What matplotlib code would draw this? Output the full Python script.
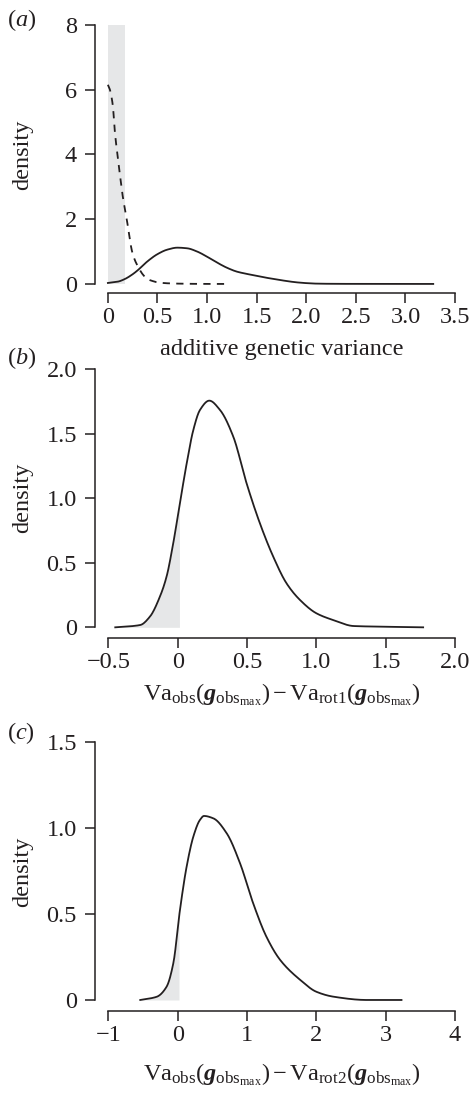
import numpy as np
import matplotlib
matplotlib.use("Agg")
import matplotlib.pyplot as plt

# ---- data ----
# panel (a): posterior densities of additive genetic variance
a_obs_x = [0, 0.1, 0.17, 0.25, 0.3, 0.4, 0.5, 0.6, 0.7, 0.8, 0.9, 1.0, 1.1, 1.2,
           1.3, 1.4, 1.5, 1.6, 1.7, 1.8, 1.9, 2.0, 2.1, 2.3, 2.6, 3.0, 3.28]
a_obs_y = [0.03, 0.07, 0.15, 0.3, 0.42, 0.7, 0.92, 1.06, 1.12, 1.1, 1.0, 0.84, 0.66, 0.5,
           0.38, 0.31, 0.25, 0.19, 0.14, 0.09, 0.05, 0.025, 0.01, 0.003, 0.001, 0, 0]
a_null_x = [0, 0.02, 0.05, 0.07, 0.1, 0.12, 0.15, 0.19, 0.22, 0.24, 0.27, 0.31,
            0.35, 0.4, 0.45, 0.5, 0.6, 0.8, 1.0, 1.18]
a_null_y = [6.15, 6.0, 5.5, 4.7, 3.9, 3.4, 2.7, 2.0, 1.4, 1.05, 0.75, 0.5,
            0.3, 0.15, 0.09, 0.05, 0.02, 0.005, 0, 0]
a_shade = (0, 0.17)

# panel (b)
b_x = [-0.45, -0.27, -0.2, -0.128, -0.08, -0.032, 0.016, 0.065, 0.113, 0.161, 0.228,
       0.305, 0.401, 0.497, 0.593, 0.689, 0.785, 0.882, 1.0, 1.12, 1.27, 1.48, 1.77]
b_y = [0, 0.018, 0.083, 0.238, 0.393, 0.651, 0.961, 1.27, 1.53, 1.685, 1.757,
       1.685, 1.478, 1.116, 0.806, 0.548, 0.341, 0.212, 0.109, 0.057, 0.01, 0.005, 0]

# panel (c)
c_x = [-0.54, -0.3, -0.16, -0.063, 0.033, 0.129, 0.226, 0.32, 0.38, 0.515, 0.708,
       0.9, 1.09, 1.28, 1.48, 1.77, 2.0, 2.25, 2.73, 3.23]
c_y = [0, 0.019, 0.077, 0.213, 0.523, 0.774, 0.949, 1.045, 1.069, 1.055, 0.968,
       0.794, 0.561, 0.368, 0.232, 0.116, 0.048, 0.019, 0, 0]

ink = "#231f20"
shade = "#e6e7e8"

plt.rcParams["font.family"] = ["Liberation Serif", "DejaVu Serif"]
plt.rcParams["mathtext.fontset"] = "custom"
plt.rcParams["mathtext.rm"] = "Liberation Serif"
plt.rcParams["mathtext.it"] = "Liberation Serif:italic"
plt.rcParams["mathtext.bf"] = "Liberation Serif:bold"
plt.rcParams["mathtext.bfit"] = "Liberation Serif:italic:bold"
plt.rcParams["text.color"] = ink

W, H = 472, 1093
fig = plt.figure(figsize=(W / 100, H / 100), dpi=100)


def px_axes(left, right, top, bottom):
    return fig.add_axes([left / W, 1 - bottom / H, (right - left) / W, (bottom - top) / H])


def smooth(x, y, n=500):
    # monotone cubic (Fritsch-Carlson) through the read points
    x = np.asarray(x, float)
    y = np.asarray(y, float)
    h = np.diff(x)
    d = np.diff(y) / h
    m = np.zeros_like(y)
    m[0], m[-1] = d[0], d[-1]
    for i in range(1, len(x) - 1):
        if d[i - 1] * d[i] <= 0:
            m[i] = 0
        else:
            w1 = 2 * h[i] + h[i - 1]
            w2 = h[i] + 2 * h[i - 1]
            m[i] = (w1 + w2) / (w1 / d[i - 1] + w2 / d[i])
    xs = np.linspace(x[0], x[-1], n)
    k = np.clip(np.searchsorted(x, xs) - 1, 0, len(x) - 2)
    t = (xs - x[k]) / h[k]
    h00 = 2 * t**3 - 3 * t**2 + 1
    h10 = t**3 - 2 * t**2 + t
    h01 = -2 * t**3 + 3 * t**2
    h11 = t**3 - t**2
    ys = h00 * y[k] + h10 * h[k] * m[k] + h01 * y[k + 1] + h11 * h[k] * m[k + 1]
    return xs, ys


def style(ax, xlim, ylim, xticks, yticks, xlabels, ylabels):
    ax.set_xlim(*xlim)
    ax.set_ylim(*ylim)
    for s in ["top", "right"]:
        ax.spines[s].set_visible(False)
    for s in ["left", "bottom"]:
        ax.spines[s].set_color(ink)
        ax.spines[s].set_linewidth(1.1)
    ax.spines["left"].set_bounds(yticks[0], yticks[-1])
    ax.spines["bottom"].set_bounds(xticks[0], xticks[-1])
    ax.set_xticks(xticks)
    ax.set_xticklabels(xlabels)
    ax.set_yticks(yticks)
    ax.set_yticklabels(ylabels)
    ax.tick_params(direction="out", length=7, width=1.1, color=ink,
                   labelsize=17.5, labelcolor=ink)
    ax.tick_params(axis="y", pad=6)
    ax.tick_params(axis="x", pad=3)
    ax.patch.set_alpha(0)


# (a)
ax = px_axes(95, 461, 21.6, 293)
ax.fill_between(list(a_shade), 0, 8, color=shade, lw=0, zorder=0)
xs, ys = smooth(a_obs_x, a_obs_y)
ax.plot(xs, ys, color=ink, lw=1.3)
xs, ys = smooth(a_null_x, a_null_y)
ax.plot(xs, ys, color=ink, lw=1.3, dashes=(4, 3.5))
style(ax, (-0.13, 3.56), (-0.28, 8.1), [0, 0.5, 1, 1.5, 2, 2.5, 3, 3.5], [0, 2, 4, 6, 8],
      ["0", "0.5", "1.0", "1.5", "2.0", "2.5", "3.0", "3.5"], ["0", "2", "4", "6", "8"])

# (b)
ax = px_axes(95, 460.6, 366.7, 638.3)
xs, ys = smooth(b_x, b_y)
m = xs <= 0.017
ax.fill_between(xs[m], 0, ys[m], color=shade, lw=0, zorder=0)
ax.plot(xs, ys, color=ink, lw=1.3)
style(ax, (-0.596, 2.04), (-0.085, 2.02), [-0.5, 0, 0.5, 1, 1.5, 2], [0, 0.5, 1, 1.5, 2],
      ["\u22120.5", "0", "0.5", "1.0", "1.5", "2.0"], ["0", "0.5", "1.0", "1.5", "2.0"])

# (c)
ax = px_axes(95, 460.4, 738.3, 1011)
xs, ys = smooth(c_x, c_y)
m = xs <= 0.02
ax.fill_between(xs[m], 0, ys[m], color=shade, lw=0, zorder=0)
ax.plot(xs, ys, color=ink, lw=1.3)
style(ax, (-1.193, 4.08), (-0.064, 1.52), [-1, 0, 1, 2, 3, 4], [0, 0.5, 1, 1.5],
      ["\u22121", "0", "1", "2", "3", "4"], ["0", "0.5", "1.0", "1.5"])

# labels
fs = 17.5
for y, lab in [(26, "a"), (364, "b"), (739, "c")]:
    fig.text(7 / W, 1 - y / H, "(" + "$\\mathit{" + lab + "}$" + ")", fontsize=fs, va="baseline")
for y in [155, 498, 872]:
    fig.text(23 / W, 1 - y / H, "density", fontsize=fs, rotation=90, ha="center", va="center")

fig.text(282 / W, 1 - 355 / H, "additive genetic variance", fontsize=fs, ha="center", va="baseline")
lab_b = (r"$\mathrm{Va}_{\mathrm{obs}}(\mathbfit{g}_{\mathrm{obs}_{\mathrm{max}}})"
         r" - \mathrm{Va}_{\mathrm{rot1}}(\mathbfit{g}_{\mathrm{obs}_{\mathrm{max}}})$")
lab_c = lab_b.replace("rot1", "rot2")
fig.text(282 / W, 1 - 700 / H, lab_b, fontsize=fs, ha="center", va="baseline")
fig.text(282 / W, 1 - 1080 / H, lab_c, fontsize=fs, ha="center", va="baseline")

fig.savefig("out.png", dpi=100)
